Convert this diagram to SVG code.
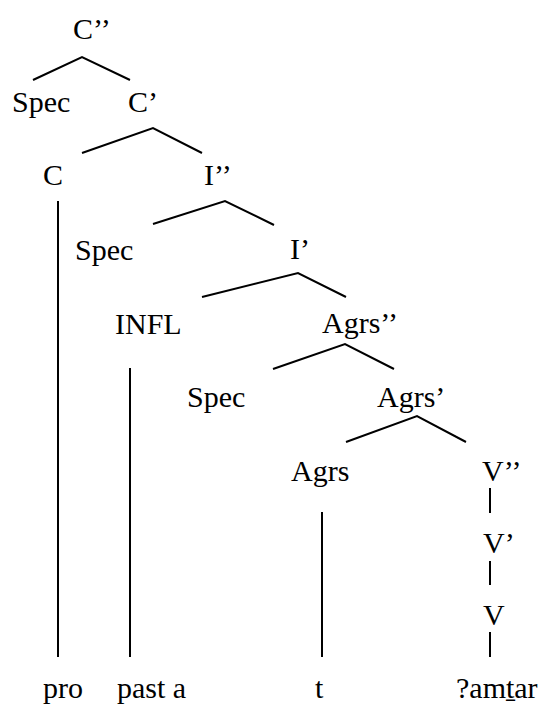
<svg xmlns="http://www.w3.org/2000/svg" width="545" height="707" viewBox="0 0 545 707">
  <style>
    text { font-family: "Liberation Serif", "Times New Roman", "DejaVu Serif", serif; font-size: 30px; fill: #000; }
    .edge { stroke: #000; stroke-width: 2; fill: none; stroke-linecap: butt; stroke-linejoin: miter; }
  </style>
  <rect width="545" height="707" fill="#fff"/>
  <!-- tree branches and unary/leaf stems -->
  <g id="connectors">
    <polyline class="edge" points="33,80 82,57 130,80"/>
    <polyline class="edge" points="82,153 153,128 202,153"/>
    <polyline class="edge" points="153,224 225,201 274,225"/>
    <polyline class="edge" points="202,297 298,273 346,297"/>
    <polyline class="edge" points="273,369 345,344 394,369"/>
    <polyline class="edge" points="346,442 417,416 466,442"/>
    <line class="edge" x1="58" y1="201" x2="58" y2="657"/>
    <line class="edge" x1="130" y1="368" x2="130" y2="657"/>
    <line class="edge" x1="322" y1="512" x2="322" y2="657"/>
    <line class="edge" x1="490" y1="488" x2="490" y2="513"/>
    <line class="edge" x1="490" y1="561" x2="490" y2="585"/>
    <line class="edge" x1="490" y1="632" x2="490" y2="657"/>
  </g>
  <g id="n-cbar2"><text x="73" y="39">C’’</text></g>
  <g id="n-spec1"><text x="12" y="112">Spec</text></g>
  <g id="n-cbar1"><text x="128" y="112">C’</text></g>
  <g id="n-c"><text x="43" y="185">C</text></g>
  <g id="n-ibar2"><text x="204" y="185">I’’</text></g>
  <g id="n-spec2"><text x="75" y="260">Spec</text></g>
  <g id="n-ibar1"><text x="290" y="259">I’</text></g>
  <g id="n-infl"><text x="115" y="334">INFL</text></g>
  <g id="n-agrs2"><text x="322" y="333">Agrs’’</text></g>
  <g id="n-spec3"><text x="187" y="407">Spec</text></g>
  <g id="n-agrs1"><text x="377" y="407">Agrs’</text></g>
  <g id="n-agrs"><text x="291" y="481">Agrs</text></g>
  <g id="n-v2"><text x="482" y="481">V’’</text></g>
  <g id="n-v1"><text x="483" y="553">V’</text></g>
  <g id="n-v"><text x="483" y="625">V</text></g>
  <g id="n-pro"><text x="43" y="698">pro</text></g>
  <g id="n-past"><text x="117" y="698">past a</text></g>
  <g id="n-t"><text x="315" y="698">t</text></g>
  <g id="n-verb"><text x="456" y="698">?amṯar</text></g>
</svg>
